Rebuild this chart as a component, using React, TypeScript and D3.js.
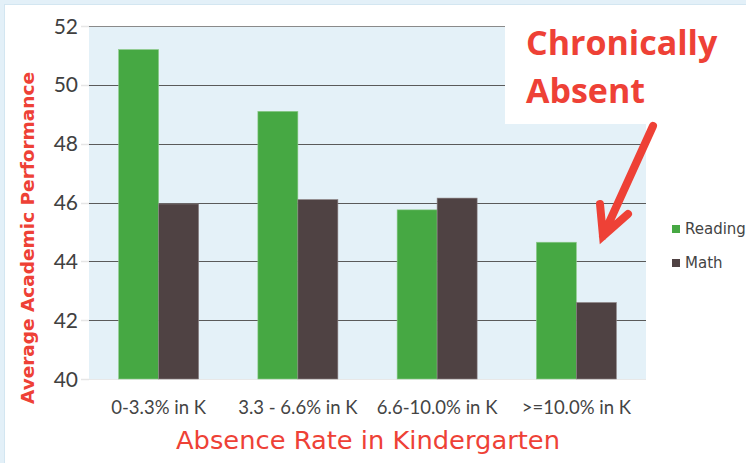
import { useEffect, useRef } from 'react';
import * as d3 from 'd3';

const categories = ['0-3.3% in K', '3.3 - 6.6% in K', '6.6-10.0% in K', '>=10.0% in K'];
const seriesNames = ['Reading', 'Math'];
const reading = [51.2, 49.1, 45.75, 44.65];
const math = [45.95, 46.1, 46.15, 42.6];
const yTicks = [40, 42, 44, 46, 48, 50, 52];
const colors = ['#46a843', '#4f4243'];

const App = () => {
  const ref = useRef<SVGSVGElement>(null);

  useEffect(() => {
    if (!ref.current) return;
    const svg = d3.select(ref.current);
    svg.selectAll('*').remove();

    const width = 746;
    const height = 463;
    const left = 89, right = 646, top = 26, bottom = 379;
    const font = "'Lato', 'DejaVu Sans', sans-serif";
    const wide = "'DejaVu Sans', sans-serif";
    const red = '#ee4136';

    // outer frame
    svg.append('rect').attr('width', width).attr('height', height).attr('fill', '#e3f0f8');
    svg.append('rect')
      .attr('x', 4.5).attr('y', 4.5).attr('width', width - 4).attr('height', height - 4)
      .attr('fill', '#fff').attr('stroke', '#d3e6f1');

    const x0 = d3.scaleBand<string>().domain(categories).range([left, right]);
    const barW = 40;
    const x1 = d3.scaleBand<string>().domain(seriesNames).range([0, barW * 2]);
    const y = d3.scaleLinear().domain([40, 52]).range([bottom, top]);

    svg.append('rect')
      .attr('x', left).attr('y', top).attr('width', right - left).attr('height', bottom - top)
      .attr('fill', '#e4f1f8');

    // gridlines + tick stubs
    const g = svg.append('g');
    g.selectAll('line.grid')
      .data(yTicks)
      .join('line')
      .attr('x1', left - 8).attr('x2', right)
      .attr('y1', d => Math.round(y(d)) + 0.5).attr('y2', d => Math.round(y(d)) + 0.5)
      .attr('stroke', d => (d === 40 ? '#e8e8e8' : d === 52 ? '#8a8a8a' : '#5a5a5a'))
      .attr('stroke-width', 1.2);

    g.selectAll('line.stub')
      .data(yTicks)
      .join('line')
      .attr('x1', left - 8).attr('x2', left)
      .attr('y1', d => Math.round(y(d)) + 0.5).attr('y2', d => Math.round(y(d)) + 0.5)
      .attr('stroke', '#e6e6e6').attr('stroke-width', 1.5);

    svg.append('g')
      .selectAll('text')
      .data(yTicks)
      .join('text')
      .attr('x', 78).attr('y', d => y(d))
      .attr('dy', '0.36em')
      .attr('text-anchor', 'end')
      .attr('fill', '#404040')
      .style('font-family', font)
      .style('font-size', '21px')
      .text(d => d);

    // bars
    const seriesData = [reading, math];
    const groups = svg.append('g')
      .selectAll('g')
      .data(categories)
      .join('g')
      .attr('transform', d => `translate(${x0(d)! + x0.bandwidth() / 2 - barW},0)`);

    groups.selectAll('rect')
      .data((_, i) => seriesNames.map((s, k) => ({ s, v: seriesData[k][i], k })))
      .join('rect')
      .attr('x', d => x1(d.s)!)
      .attr('y', d => y(d.v))
      .attr('width', x1.bandwidth())
      .attr('height', d => bottom - y(d.v))
      .attr('fill', d => colors[d.k])
      .attr('stroke', d => (d.k === 0 ? '#8fcb8c' : '#8d8284'))
      .attr('stroke-width', 0.6);

    // x labels
    svg.append('g')
      .selectAll('text')
      .data(categories)
      .join('text')
      .attr('x', d => x0(d)! + x0.bandwidth() / 2)
      .attr('y', 414)
      .attr('text-anchor', 'middle')
      .attr('fill', '#444')
      .style('font-family', font)
      .style('font-size', '18.5px')
      .text(d => d);

    // axis titles
    svg.append('text')
      .attr('transform', `translate(34,${238}) rotate(-90)`)
      .attr('text-anchor', 'middle')
      .attr('fill', red)
      .attr('textLength', 332)
      .attr('lengthAdjust', 'spacingAndGlyphs')
      .style('font-family', wide)
      .style('font-weight', 'bold')
      .style('font-size', '18px')
      .text('Average Academic Performance');

    svg.append('text')
      .attr('x', 368).attr('y', 449)
      .attr('text-anchor', 'middle')
      .attr('fill', red)
      .attr('textLength', 384)
      .attr('lengthAdjust', 'spacingAndGlyphs')
      .style('font-family', wide)
      .style('font-size', '25px')
      .text('Absence Rate in Kindergarten');

    // legend
    const legend = svg.append('g')
      .selectAll('g')
      .data(seriesNames)
      .join('g')
      .attr('transform', (_, i) => `translate(672,${229 + i * 34})`);
    legend.append('rect')
      .attr('x', 0).attr('y', -4).attr('width', 8).attr('height', 8)
      .attr('fill', (_, i) => colors[i]);
    legend.append('text')
      .attr('x', 13).attr('dy', '0.36em')
      .attr('fill', '#444')
      .style('font-family', wide)
      .style('font-size', '15px')
      .text(d => d);

    // annotation
    svg.append('rect')
      .attr('x', 505).attr('y', 6).attr('width', width - 505).attr('height', 118)
      .attr('fill', '#fff');
    const ann = svg.append('text')
      .attr('fill', red)
      .style('font-family', "'Open Sans', sans-serif")
      .style('font-weight', 'bold')
      .style('font-size', '34px');
    ann.append('tspan').attr('x', 526).attr('y', 55).text('Chronically');
    ann.append('tspan').attr('x', 526).attr('y', 103).text('Absent');

    const arrow = d3.path();
    arrow.moveTo(653, 126);
    arrow.lineTo(603, 236);
    arrow.moveTo(600, 204);
    arrow.lineTo(603, 236);
    arrow.lineTo(628, 214);
    svg.append('path')
      .attr('d', arrow.toString())
      .attr('fill', 'none')
      .attr('stroke', red)
      .attr('stroke-width', 8)
      .attr('stroke-linecap', 'round')
      .attr('stroke-linejoin', 'miter');
  }, []);

  return (
    <svg
      ref={ref}
      width={746}
      height={463}
      style={{ position: 'absolute', left: 0, top: 0, display: 'block' }}
    />
  );
};

export default App;
